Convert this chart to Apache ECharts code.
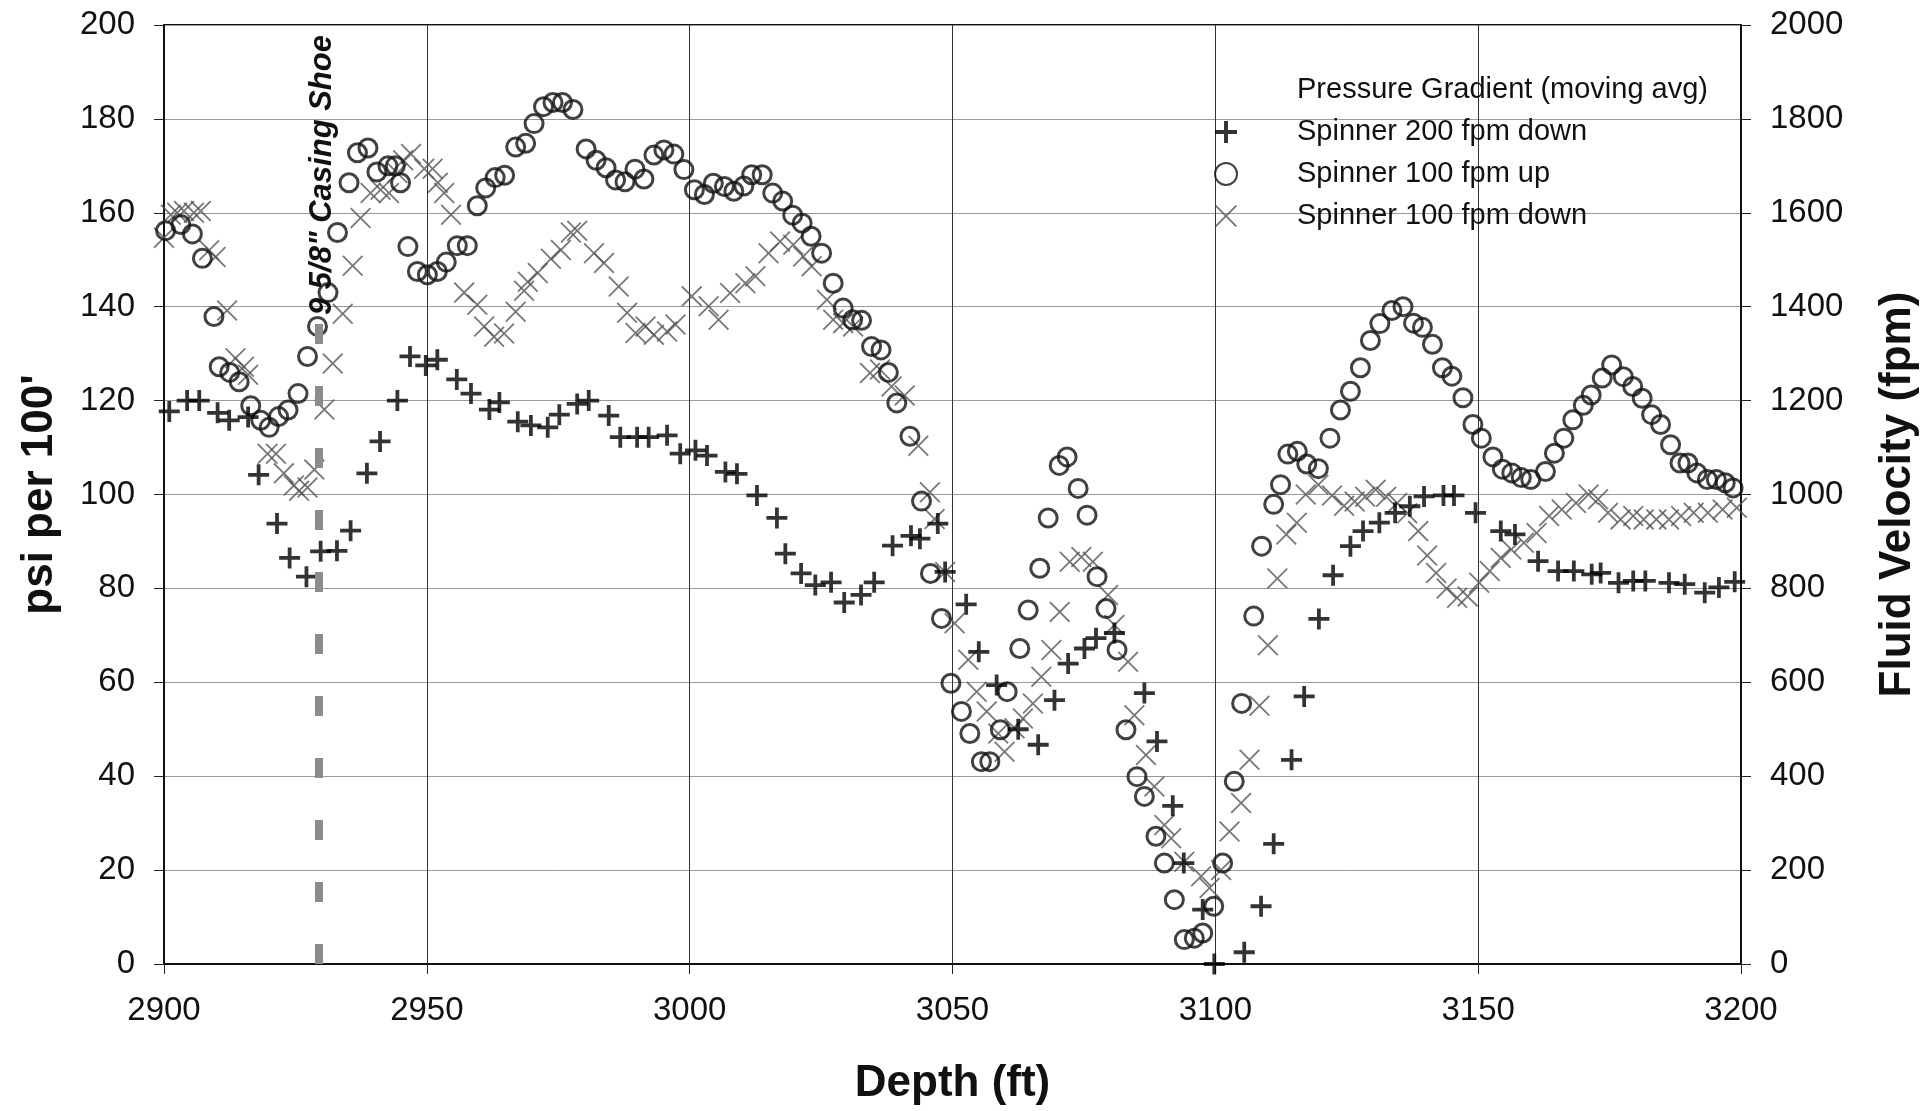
<!DOCTYPE html>
<html>
<head>
<meta charset="utf-8">
<script src="https://cdn.jsdelivr.net/npm/echarts@6/dist/echarts.min.js"></script>
<style>
  html, body { margin: 0; padding: 0; background: #fff; }
  #main { width: 1932px; height: 1111px; }
</style>
</head>
<body>
<div id="main"></div>
<script>
// depth (ft) and fluid velocity (fpm)
var spinner200Down = [
  [2901, 1177], [2904.4, 1200], [2906.7, 1200], [2910.2, 1174], [2912.4, 1158], [2916, 1165],
  [2918, 1042], [2921.5, 938], [2923.9, 865], [2927.1, 825], [2929.8, 879], [2932.9, 880],
  [2935.5, 923], [2938.6, 1045], [2941.1, 1113], [2944.4, 1200], [2946.8, 1294], [2949.8, 1275],
  [2952, 1287], [2955.7, 1245], [2958.4, 1215], [2961.9, 1181], [2963.8, 1196], [2967.3, 1155],
  [2969.8, 1147], [2973, 1143], [2975.2, 1170], [2978.6, 1193], [2980.8, 1200], [2984.6, 1168],
  [2986.8, 1122], [2990, 1122], [2992.2, 1122], [2995.7, 1126], [2998.2, 1087], [3001.1, 1094],
  [3003.3, 1083], [3006.8, 1048], [3009, 1044], [3012.8, 998], [3016.6, 950], [3018.2, 874],
  [3021.2, 832], [3023.9, 807], [3026.9, 813], [3029.4, 770], [3032.6, 786], [3035.1, 813],
  [3038.6, 891], [3042.1, 912], [3043.8, 906], [3047.2, 938], [3048.6, 835], [3052.6, 766],
  [3055, 665], [3058.4, 594], [3062.5, 500], [3066.3, 467], [3069.4, 562], [3072, 640],
  [3075.1, 672], [3077.3, 694], [3080.8, 705], [3086.5, 577], [3088.9, 474], [3091.9, 337],
  [3094, 215], [3097.6, 116], [3099.8, 0], [3105.5, 25], [3108.7, 123], [3111.1, 256],
  [3114.5, 435], [3116.9, 570], [3119.7, 735], [3122.4, 828], [3125.7, 890], [3128.1, 922],
  [3131.2, 940], [3134.2, 961], [3137, 975], [3139.7, 996], [3143.4, 998], [3145.4, 998],
  [3149.5, 961], [3154.3, 922], [3157, 915], [3161.4, 858], [3165.2, 837], [3168.2, 837],
  [3171.6, 830], [3173.3, 833], [3176.7, 812], [3179.5, 816], [3181.8, 816], [3186.3, 812],
  [3189.3, 809], [3193.1, 791], [3195.8, 802], [3198.8, 814]
];

var spinner100Up = [
  [2900.3, 1562], [2903.2, 1575], [2905.4, 1555], [2907.3, 1503], [2909.5, 1379], [2910.5, 1272],
  [2912.5, 1260], [2914.3, 1240], [2916.5, 1189], [2918.4, 1158], [2920, 1143], [2921.8, 1166],
  [2923.6, 1180], [2925.5, 1215], [2927.3, 1294], [2929.2, 1358], [2931.2, 1430], [2933, 1558],
  [2935.2, 1664], [2936.8, 1728], [2938.8, 1738], [2940.5, 1687], [2942.6, 1700], [2944, 1700],
  [2945, 1664], [2946.4, 1528], [2948.2, 1475], [2950.1, 1468], [2952, 1475], [2953.7, 1495],
  [2955.8, 1530], [2957.7, 1530], [2959.6, 1615], [2961.2, 1653], [2963, 1675], [2964.8, 1680],
  [2966.9, 1740], [2968.8, 1748], [2970.4, 1790], [2972.2, 1826], [2974, 1835], [2975.8, 1835],
  [2977.8, 1820], [2980.3, 1736], [2982.2, 1712], [2984.1, 1696], [2985.9, 1670], [2987.7, 1666],
  [2989.6, 1693], [2991.3, 1672], [2993.2, 1723], [2995.1, 1734], [2997, 1725], [2998.9, 1692],
  [3000.9, 1649], [3002.8, 1639], [3004.5, 1663], [3006.6, 1656], [3008.4, 1646], [3010.3, 1657],
  [3011.8, 1681], [3013.8, 1681], [3015.8, 1642], [3017.7, 1625], [3019.6, 1595], [3021.4, 1578],
  [3023.1, 1550], [3025.1, 1514], [3027.3, 1450], [3029.2, 1397], [3031, 1372], [3032.7, 1371],
  [3034.6, 1315], [3036.4, 1308], [3037.8, 1260], [3039.4, 1195], [3041.9, 1124], [3044.1, 986],
  [3045.8, 832], [3047.9, 736], [3049.7, 598], [3051.7, 538], [3053.3, 491], [3055.5, 431],
  [3057.1, 431], [3059.1, 499], [3060.4, 580], [3062.8, 672], [3064.4, 754], [3066.6, 843],
  [3068.2, 950], [3070.3, 1062], [3071.8, 1080], [3073.9, 1013], [3075.6, 956], [3077.5, 825],
  [3079.2, 757], [3081.3, 669], [3083, 499], [3085.1, 399], [3086.5, 357], [3088.7, 272],
  [3090.3, 215], [3092.2, 137], [3094.1, 52], [3096, 55], [3097.6, 66], [3099.7, 123],
  [3101.4, 215], [3103.6, 389], [3105, 555], [3107.3, 741], [3108.8, 890], [3111.1, 979],
  [3112.4, 1021], [3113.8, 1086], [3115.6, 1092], [3117.4, 1065], [3119.6, 1055], [3121.8, 1120],
  [3123.8, 1180], [3125.7, 1220], [3127.6, 1270], [3129.5, 1328], [3131.3, 1364], [3133.6, 1392],
  [3135.7, 1400], [3137.7, 1365], [3139.4, 1356], [3141.3, 1320], [3143.2, 1270], [3145, 1252],
  [3147.1, 1206], [3149, 1149], [3150.6, 1120], [3152.8, 1080], [3154.6, 1054], [3156.4, 1046],
  [3158.2, 1036], [3160, 1032], [3162.8, 1049], [3164.5, 1088], [3166.3, 1120], [3168, 1159],
  [3170, 1190], [3171.5, 1212], [3173.6, 1248], [3175.4, 1276], [3177.6, 1251], [3179.4, 1230],
  [3181.2, 1205], [3183, 1170], [3184.7, 1149], [3186.6, 1106], [3188.4, 1067], [3189.9, 1067],
  [3191.6, 1046], [3193.6, 1032], [3195.3, 1032], [3197, 1025], [3198.5, 1014]
];

var spinner100Down = [
  [2900, 1547], [2901.3, 1596], [2902.5, 1600], [2903.8, 1604], [2905.7, 1600], [2907, 1604],
  [2908.6, 1520], [2909.8, 1506], [2912, 1392], [2913.6, 1290], [2915.2, 1272], [2916, 1255],
  [2919.7, 1087], [2921.3, 1087], [2922.8, 1045], [2924.7, 1019], [2925.7, 1008], [2927.3, 1015],
  [2928.6, 1053], [2930.5, 1181], [2932.1, 1279], [2934, 1385], [2935.9, 1487], [2937.4, 1589],
  [2939.3, 1642], [2941.2, 1649], [2942.8, 1642], [2944.4, 1685], [2945.5, 1712], [2947, 1725],
  [2949.5, 1694], [2951.1, 1694], [2952.1, 1664], [2953.3, 1642], [2954.6, 1596], [2957.1, 1430],
  [2959.6, 1404], [2960.9, 1358], [2962.8, 1336], [2964.7, 1343], [2966.9, 1389], [2968.5, 1434],
  [2969.2, 1453], [2971.1, 1472], [2973.6, 1502], [2975.5, 1521], [2977.4, 1558], [2978.6, 1562],
  [2981.8, 1514], [2983.7, 1493], [2986.5, 1443], [2988.1, 1387], [2989.7, 1344], [2991.6, 1358],
  [2993.2, 1340], [2995.7, 1347], [2997.3, 1362], [3000.4, 1422], [3003.6, 1401], [3005.5, 1372],
  [3007.7, 1429], [3010.6, 1450], [3012.5, 1465], [3015, 1514], [3017.2, 1539], [3019.7, 1532],
  [3021.6, 1507], [3023.2, 1486], [3026.1, 1415], [3027.3, 1372], [3029.2, 1365], [3031.1, 1358],
  [3034.3, 1259], [3036.2, 1266], [3038.4, 1230], [3040.9, 1211], [3043.5, 1104], [3045.7, 1005],
  [3046.6, 948], [3048.6, 835], [3050.4, 726], [3053, 648], [3054.6, 580], [3056.5, 538],
  [3058.7, 491], [3059.9, 452], [3061.8, 502], [3063.4, 523], [3065.3, 555], [3066.9, 612],
  [3068.8, 669], [3070.4, 750], [3072.3, 857], [3074.5, 867], [3076.7, 857], [3079.6, 786],
  [3080.8, 722], [3083.4, 644], [3084.6, 530], [3086.8, 445], [3088.4, 378], [3090.3, 296],
  [3091.6, 268], [3094.1, 218], [3097.3, 187], [3098.9, 162], [3101.1, 200], [3102.7, 282],
  [3104.9, 343], [3106.5, 435], [3108.4, 550], [3110, 679], [3111.8, 821], [3113.5, 915],
  [3115.5, 940], [3117.2, 1000], [3119.6, 1021], [3122.2, 998], [3124.5, 976], [3126.5, 985],
  [3128.5, 995], [3130.5, 1010], [3132.5, 995], [3134.6, 982], [3136.5, 960], [3138.6, 922],
  [3140.3, 870], [3142, 833], [3144, 800], [3146, 780], [3148, 783], [3150.2, 812],
  [3152.2, 837], [3154.3, 865], [3156.3, 883], [3158.7, 897], [3161.1, 918], [3163.5, 954],
  [3165.9, 968], [3168.6, 982], [3171, 1000], [3172.8, 990], [3174.7, 961], [3177.1, 947],
  [3179.5, 954], [3181.5, 947], [3183.9, 947], [3186.3, 947], [3188.6, 954], [3191, 961],
  [3193.7, 961], [3196.5, 968], [3199.2, 972]
];

var casingShoeDepth = 2929.5;
var casingShoeTop = 1365;
var casingShoeLabelBase = 1395;

var seriesNames = ['Pressure Gradient (moving avg)', 'Spinner 200 fpm down', 'Spinner 100 fpm up', 'Spinner 100 fpm down'];

var plusPath = 'path://M-1.8,-10L1.8,-10L1.8,-1.8L10,-1.8L10,1.8L1.8,1.8L1.8,10L-1.8,10L-1.8,1.8L-10,1.8L-10,-1.8L-1.8,-1.8Z';
var crossPath = 'path://M-10,-8.8L-8.8,-10L0,-1.2L8.8,-10L10,-8.8L1.2,0L10,8.8L8.8,10L0,1.2L-8.8,10L-10,8.8L-1.2,0Z';

var font = 'Liberation Sans';

function plainNumber(v) {
  return String(v);
}

(function () {
  var chart = echarts.init(document.getElementById('main'));

  var option = {
    animation: false,
    backgroundColor: '#fff',
    textStyle: { fontFamily: font },
    grid: {
      left: 164, right: 191, top: 25, bottom: 145,
      show: true, borderColor: '#111', borderWidth: 2
    },
    legend: {
      orient: 'vertical',
      left: 1214,
      top: 69,
      padding: 0,
      itemGap: 0,
      itemWidth: 22,
      itemHeight: 22,
      selectedMode: false,
      textStyle: { fontSize: 29, color: '#111', lineHeight: 42, padding: [0, 0, 0, 55], fontFamily: font },
      data: [
        { name: seriesNames[0], icon: 'none' },
        { name: seriesNames[1], icon: plusPath },
        { name: seriesNames[2], icon: 'circle' },
        { name: seriesNames[3], icon: crossPath }
      ]
    },
    xAxis: {
      type: 'value',
      min: 2900, max: 3200, interval: 50,
      name: 'Depth (ft)',
      nameLocation: 'middle',
      nameGap: 98,
      nameTextStyle: { fontSize: 44, fontWeight: 'bold', color: '#111', fontFamily: font },
      axisLine: { show: true, lineStyle: { color: '#111', width: 2 } },
      axisTick: { show: true, length: 10, lineStyle: { color: '#222' } },
      axisLabel: { fontSize: 33, color: '#111', margin: 30, fontFamily: font, formatter: plainNumber },
      splitLine: { show: true, lineStyle: { color: '#333', width: 1 } }
    },
    yAxis: [
      {
        type: 'value',
        min: 0, max: 200, interval: 20,
        name: "psi per 100'",
        nameLocation: 'middle',
        nameRotate: 90,
        nameGap: 102,
        nameTextStyle: { fontSize: 44, fontWeight: 'bold', color: '#111', fontFamily: font },
        axisLine: { show: true, lineStyle: { color: '#111', width: 2 } },
        axisTick: { show: true, length: 10, lineStyle: { color: '#222' } },
        axisLabel: { fontSize: 33, color: '#111', margin: 29, fontFamily: font, formatter: plainNumber },
        splitLine: { show: true, lineStyle: { color: '#9a9a9a', width: 1 } }
      },
      {
        type: 'value',
        min: 0, max: 2000, interval: 200,
        position: 'right',
        name: 'Fluid Velocity (fpm)',
        nameLocation: 'middle',
        nameRotate: 90,
        nameGap: 135,
        nameTextStyle: { fontSize: 44, fontWeight: 'bold', color: '#111', fontFamily: font },
        axisLine: { show: true, lineStyle: { color: '#111', width: 2 } },
        axisTick: { show: true, length: 10, lineStyle: { color: '#222' } },
        axisLabel: { fontSize: 33, color: '#111', margin: 29, fontFamily: font, formatter: plainNumber },
        splitLine: { show: false }
      }
    ],
    series: [
      {
        name: seriesNames[0],
        type: 'line',
        yAxisIndex: 0,
        data: []
      },
      {
        name: seriesNames[3],
        type: 'scatter',
        yAxisIndex: 1,
        symbol: crossPath,
        symbolSize: 21,
        itemStyle: { color: '#555' },
        data: spinner100Down
      },
      {
        name: seriesNames[2],
        type: 'scatter',
        yAxisIndex: 1,
        symbol: 'circle',
        symbolSize: 18,
        itemStyle: { color: 'rgba(0,0,0,0)', borderColor: '#111', borderWidth: 3 },
        data: spinner100Up
      },
      {
        name: seriesNames[1],
        type: 'scatter',
        yAxisIndex: 1,
        symbol: plusPath,
        symbolSize: 21,
        itemStyle: { color: '#000' },
        data: spinner200Down,
        markLine: {
          silent: true,
          symbol: ['none', 'none'],
          label: { show: false },
          lineStyle: { color: '#8c8c8c', width: 8, type: [20, 42] },
          data: [[{ coord: [casingShoeDepth, 0] }, { coord: [casingShoeDepth, casingShoeTop] }]]
        }
      }
    ]
  };
  chart.setOption(option);

  // casing shoe label sits on top of the dashed line
  var p = chart.convertToPixel({ xAxisIndex: 0, yAxisIndex: 1 }, [casingShoeDepth, casingShoeLabelBase]);
  chart.setOption({
    graphic: [{
      type: 'text',
      x: p[0] + 3,
      y: p[1] + 6,
      rotation: Math.PI / 2,
      style: {
        text: '9 5/8" Casing Shoe',
        fill: '#111',
        font: 'italic bold 31px "Liberation Sans"',
        textAlign: 'left',
        textVerticalAlign: 'middle'
      }
    }]
  });
})();
</script>
</body>
</html>
